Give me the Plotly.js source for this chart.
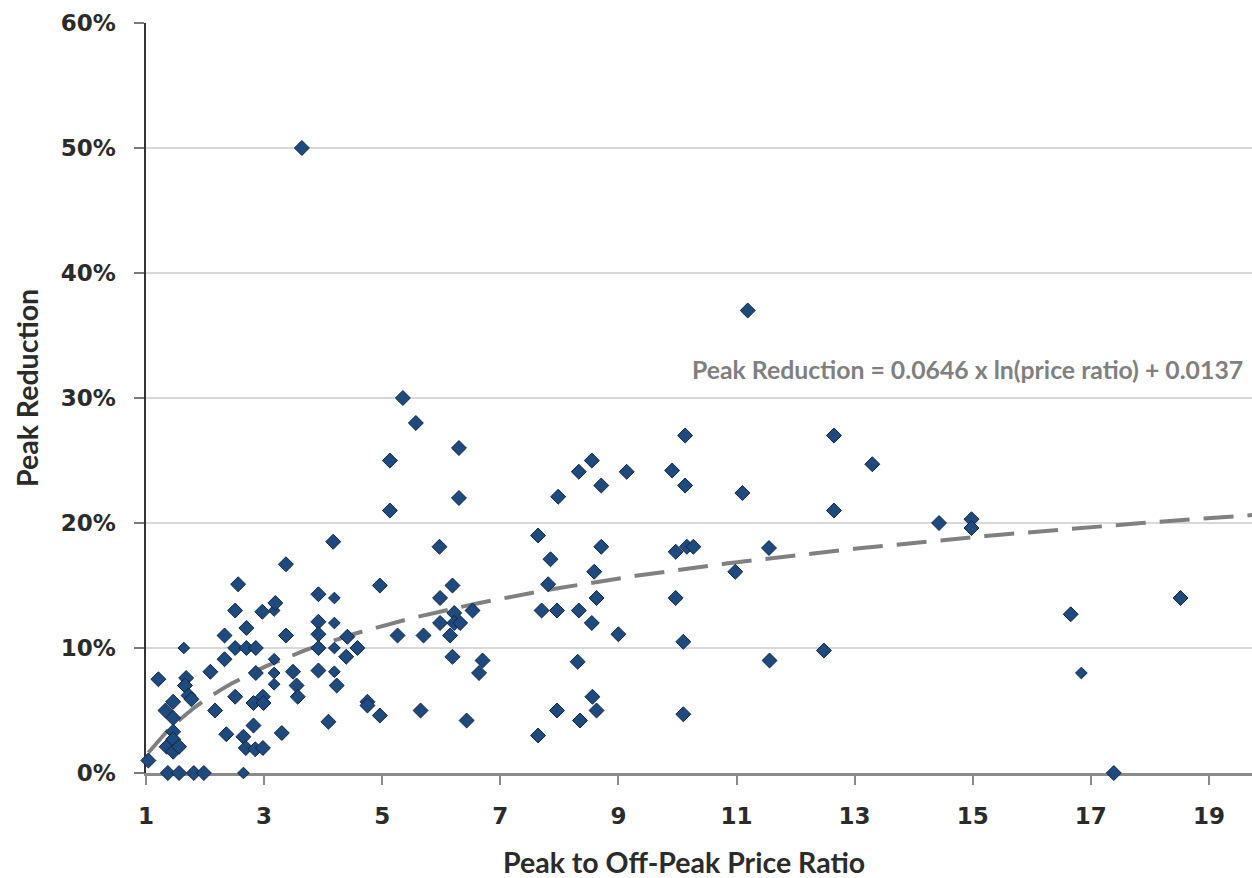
<!DOCTYPE html>
<html>
<head>
<meta charset="utf-8">
<script src="https://cdn.plot.ly/plotly-3.0.1.min.js"></script>
<style>
  html, body { margin: 0; padding: 0; background: #ffffff; }
  #chart { width: 1252px; height: 878px; }
</style>
</head>
<body>
<div id="chart"></div>
<script>
// Peak to off-peak price ratio (x) and peak reduction (y) — main pilots
var ratioLarge = [
  1.04, 1.21, 1.33, 1.35, 1.37, 1.46, 1.46, 1.46, 1.46, 1.46,
  1.56, 1.56, 1.68, 1.66, 1.72, 1.77, 1.81, 1.98, 2.09, 2.17,
  2.33, 2.33, 2.36, 2.51, 2.51, 2.51, 2.56, 2.65, 2.69, 2.70,
  2.70, 2.82, 2.82, 2.85, 2.86, 2.86, 2.97, 2.98, 2.98, 2.99,
  3.19, 3.30, 3.37, 3.37, 3.49, 3.55, 3.57, 3.64, 3.92, 3.92,
  3.92, 3.92, 3.92, 4.09, 4.17, 4.23, 4.39, 4.41, 4.58, 4.75,
  4.75, 4.96, 4.96, 5.13, 5.13, 5.26, 5.35, 5.57, 5.65, 5.70,
  5.97, 5.98, 5.98, 6.15, 6.19, 6.19, 6.22, 6.22, 6.32, 6.30,
  6.30, 6.43, 6.53, 6.64, 6.70, 7.64, 7.64, 7.70, 7.85, 7.81,
  7.96, 7.96, 7.98, 8.31, 8.33, 8.33, 8.35, 8.55, 8.55, 8.56,
  8.59, 8.63, 8.63, 8.71, 8.71, 9.00, 9.14, 9.91, 9.97, 9.97,
  10.10, 10.10, 10.13, 10.13, 10.16, 10.27, 10.98, 11.10, 11.19, 11.55,
  11.56, 12.48, 12.65, 12.65, 13.30, 14.43, 14.98, 14.98, 16.66, 17.39,
  18.52
];
var reductionLarge = [
  0.010, 0.075, 0.050, 0.021, 0.000, 0.057, 0.044, 0.033, 0.027, 0.017,
  0.021, 0.000, 0.076, 0.070, 0.062, 0.059, 0.000, 0.000, 0.081, 0.050,
  0.110, 0.091, 0.031, 0.130, 0.100, 0.061, 0.151, 0.029, 0.020, 0.116,
  0.100, 0.056, 0.038, 0.019, 0.100, 0.080, 0.129, 0.061, 0.020, 0.056,
  0.136, 0.032, 0.167, 0.110, 0.081, 0.070, 0.061, 0.500, 0.143, 0.121,
  0.111, 0.100, 0.082, 0.041, 0.185, 0.070, 0.093, 0.109, 0.100, 0.057,
  0.054, 0.150, 0.046, 0.250, 0.210, 0.110, 0.300, 0.280, 0.050, 0.110,
  0.181, 0.140, 0.120, 0.110, 0.150, 0.093, 0.128, 0.120, 0.120, 0.260,
  0.220, 0.042, 0.130, 0.080, 0.090, 0.190, 0.030, 0.130, 0.171, 0.151,
  0.130, 0.050, 0.221, 0.089, 0.241, 0.130, 0.042, 0.250, 0.120, 0.061,
  0.161, 0.140, 0.050, 0.230, 0.181, 0.111, 0.241, 0.242, 0.177, 0.140,
  0.105, 0.047, 0.270, 0.230, 0.181, 0.181, 0.161, 0.224, 0.370, 0.180,
  0.090, 0.098, 0.270, 0.210, 0.247, 0.200, 0.203, 0.196, 0.127, 0.000,
  0.140
];
// Points drawn with smaller markers
var ratioSmall = [1.64, 2.65, 3.17, 3.17, 3.17, 3.17, 4.19, 4.19, 4.19, 4.19, 16.84];
var reductionSmall = [0.100, 0.000, 0.130, 0.091, 0.080, 0.071, 0.140, 0.120, 0.100, 0.081, 0.080];

// Logarithmic trend line shown on the chart: y = a * ln(x) + b
var trendA = 0.0646;
var trendB = 0.0137;
var trendLabel = "Peak Reduction = 0.0646 x ln(price ratio) + 0.0137";
var xTitle = "Peak to Off-Peak Price Ratio";
var yTitle = "Peak Reduction";

var xTicks = [1, 3, 5, 7, 9, 11, 13, 15, 17, 19];
var xMax = 19.73;

var trendX = [], trendY = [];
var allX = ratioLarge.concat(ratioSmall);
var x0 = Math.min.apply(null, allX);
var steps = 120;
for (var i = 0; i <= steps; i++) {
  var xv = x0 + (xMax - x0) * i / steps;
  trendX.push(xv);
  trendY.push(trendA * Math.log(xv) + trendB);
}

var markerFill = '#1f4a7e';
var markerEdge = '#0c2748';

var traces = [
  {
    x: trendX, y: trendY, type: 'scatter', mode: 'lines',
    line: { color: '#808080', width: 4, dash: '30px,14px' },
    hoverinfo: 'skip', showlegend: false
  },
  {
    x: ratioSmall, y: reductionSmall, type: 'scatter', mode: 'markers',
    marker: { symbol: 'diamond', size: 9, color: markerFill, line: { color: markerEdge, width: 1 } },
    cliponaxis: false, showlegend: false
  },
  {
    x: ratioLarge, y: reductionLarge, type: 'scatter', mode: 'markers',
    marker: { symbol: 'diamond', size: 11.5, color: markerFill, line: { color: markerEdge, width: 1 } },
    cliponaxis: false, showlegend: false
  }
];

var tickFont = { family: 'DejaVu Sans', size: 23, color: '#2b2b2b', weight: 'bold' };
var titleFont = { family: 'Lato', size: 28.5, color: '#2b2b2b', weight: 'bold' };

var pw = 1252 - 146, ph = 878 - 23 - 105;

var layout = {
  width: 1252, height: 878,
  margin: { l: 146, r: 0, t: 23, b: 105 },
  paper_bgcolor: '#ffffff', plot_bgcolor: '#ffffff',
  showlegend: false,
  xaxis: {
    range: [1, xMax],
    tickvals: xTicks,
    ticktext: xTicks.map(String),
    ticks: 'outside', ticklen: 9, tickwidth: 2, tickcolor: '#8a8a8a',
    ticklabelstandoff: 12,
    showline: true, linecolor: '#8a8a8a', linewidth: 2.5,
    showgrid: false, zeroline: false,
    tickfont: tickFont,
    layer: 'below traces'
  },
  yaxis: {
    range: [0, 0.6],
    dtick: 0.1, tick0: 0,
    tickformat: '.0%',
    ticks: 'outside', ticklen: 10, tickwidth: 2, tickcolor: '#7a7a7a',
    ticklabelstandoff: 13,
    showline: true, linecolor: '#333333', linewidth: 2.5,
    showgrid: true, gridcolor: '#d9d9d9', gridwidth: 1.5,
    zeroline: false,
    tickfont: tickFont,
    layer: 'below traces'
  },
  annotations: [
    {
      x: 10.21, y: 0.323, xref: 'x', yref: 'y',
      xanchor: 'left', yanchor: 'middle',
      text: trendLabel, showarrow: false,
      font: { family: 'Lato', size: 24.8, color: '#808080', weight: 'bold' }
    },
    {
      x: (684 - 146) / pw, y: (773 - 862) / ph, xref: 'paper', yref: 'paper',
      xanchor: 'center', yanchor: 'middle', showarrow: false,
      text: xTitle, font: titleFont
    },
    {
      x: (27 - 146) / pw, y: (773 - 388) / ph, xref: 'paper', yref: 'paper',
      xanchor: 'center', yanchor: 'middle', showarrow: false, textangle: -90,
      text: yTitle, font: titleFont
    }
  ]
};

Plotly.newPlot('chart', traces, layout, { staticPlot: true, displayModeBar: false });
</script>
</body>
</html>
